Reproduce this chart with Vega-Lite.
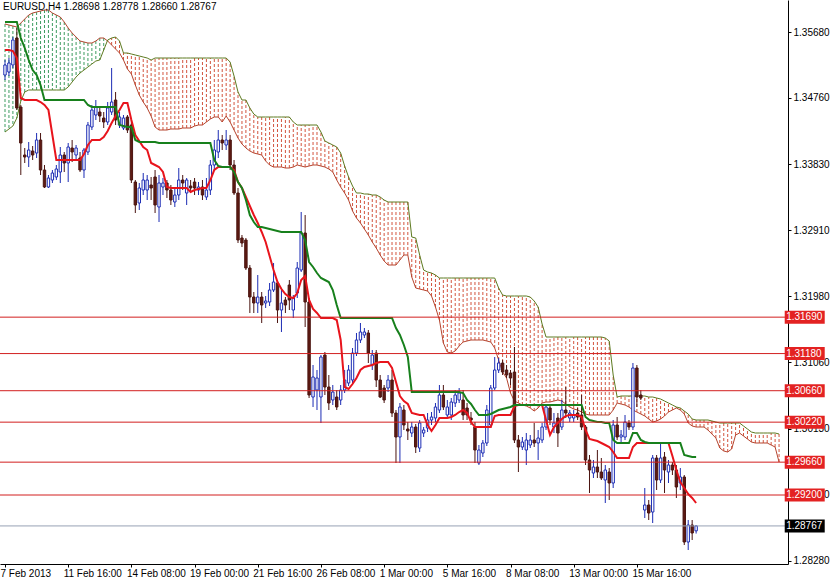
{
"$schema":"https://vega.github.io/schema/vega-lite/v6.json",
"width":788,"height":564,
"autosize":{"type":"none"},
"padding":{"left":0,"top":0,"right":42,"bottom":15},
"background":"white",
"config":{"view":{"stroke":null},"font":"Liberation Sans"},
"title":{"text":"EURUSD,H4  1.28698 1.28778 1.28660 1.28767","anchor":"start","frame":"group","orient":"top","offset":0,"baseline":"top","dx":3,"dy":12,"fontSize":10,"fontWeight":"normal","color":"black","font":"Liberation Sans"},
"datasets":{
"bars":[
{"i":0,"o":1.3508,"h":1.3529,"l":1.3501,"c":1.3522,"t":1.3543,"k":1.35822,"a":1.35794,"b":1.34282},
{"i":1,"o":1.35122,"h":1.35318,"l":1.35066,"c":1.35248,"t":1.3543,"k":1.35822,"a":1.3578,"b":1.34324},
{"i":2,"o":1.3522,"h":1.35612,"l":1.35178,"c":1.3557,"t":1.35416,"k":1.35822,"a":1.35766,"b":1.34366},
{"i":3,"o":1.35598,"h":1.35738,"l":1.3459,"c":1.34618,"t":1.35318,"k":1.35822,"a":1.35752,"b":1.34478},
{"i":4,"o":1.34632,"h":1.3466,"l":1.3368,"c":1.34128,"t":1.34758,"k":1.35598,"a":1.35808,"b":1.34716},
{"i":5,"o":1.3396,"h":1.34058,"l":1.33848,"c":1.33932,"t":1.3473,"k":1.35458,"a":1.35864,"b":1.34842},
{"i":6,"o":1.33932,"h":1.34142,"l":1.33792,"c":1.3403,"t":1.3473,"k":1.3529,"a":1.3592,"b":1.3487},
{"i":7,"o":1.34016,"h":1.34086,"l":1.3389,"c":1.3396,"t":1.3473,"k":1.3515,"a":1.35948,"b":1.3487},
{"i":8,"o":1.33988,"h":1.34268,"l":1.33918,"c":1.3417,"t":1.3473,"k":1.3508,"a":1.35962,"b":1.3487},
{"i":9,"o":1.3417,"h":1.34268,"l":1.3368,"c":1.3375,"t":1.34702,"k":1.3494,"a":1.35976,"b":1.3487},
{"i":10,"o":1.3375,"h":1.3382,"l":1.33498,"c":1.33512,"t":1.3466,"k":1.3473,"a":1.3599,"b":1.3487},
{"i":11,"o":1.33512,"h":1.3368,"l":1.33498,"c":1.33638,"t":1.3459,"k":1.3473,"a":1.3599,"b":1.3487},
{"i":12,"o":1.3361,"h":1.3375,"l":1.33568,"c":1.33708,"t":1.3424,"k":1.3473,"a":1.35948,"b":1.3487},
{"i":13,"o":1.33652,"h":1.3382,"l":1.3361,"c":1.33764,"t":1.3389,"k":1.3473,"a":1.3592,"b":1.3487},
{"i":14,"o":1.33722,"h":1.34072,"l":1.33568,"c":1.3396,"t":1.3389,"k":1.3473,"a":1.35892,"b":1.3487},
{"i":15,"o":1.3396,"h":1.34002,"l":1.33722,"c":1.33848,"t":1.3389,"k":1.3473,"a":1.35822,"b":1.3487},
{"i":16,"o":1.33848,"h":1.34128,"l":1.33582,"c":1.34072,"t":1.3389,"k":1.3473,"a":1.35738,"b":1.34912},
{"i":17,"o":1.34058,"h":1.3417,"l":1.33862,"c":1.34002,"t":1.3389,"k":1.3473,"a":1.35668,"b":1.34982},
{"i":18,"o":1.3396,"h":1.341,"l":1.3389,"c":1.34058,"t":1.3389,"k":1.3473,"a":1.35612,"b":1.35052},
{"i":19,"o":1.33918,"h":1.34002,"l":1.33722,"c":1.3375,"t":1.3389,"k":1.3473,"a":1.35556,"b":1.35108},
{"i":20,"o":1.3375,"h":1.34058,"l":1.33638,"c":1.3403,"t":1.33974,"k":1.3473,"a":1.35542,"b":1.3515},
{"i":21,"o":1.34002,"h":1.34422,"l":1.3396,"c":1.3438,"t":1.341,"k":1.3466,"a":1.35528,"b":1.35192},
{"i":22,"o":1.34352,"h":1.3466,"l":1.3431,"c":1.3459,"t":1.3417,"k":1.34632,"a":1.35528,"b":1.35234},
{"i":23,"o":1.3452,"h":1.3473,"l":1.3445,"c":1.34632,"t":1.3417,"k":1.34632,"a":1.35556,"b":1.35276},
{"i":24,"o":1.34562,"h":1.34618,"l":1.34422,"c":1.34506,"t":1.3417,"k":1.34632,"a":1.35598,"b":1.3529},
{"i":25,"o":1.34478,"h":1.34562,"l":1.34338,"c":1.34422,"t":1.34212,"k":1.34632,"a":1.35598,"b":1.3543},
{"i":26,"o":1.34422,"h":1.34702,"l":1.3438,"c":1.34618,"t":1.34296,"k":1.34632,"a":1.35556,"b":1.3557},
{"i":27,"o":1.34562,"h":1.35178,"l":1.3452,"c":1.34702,"t":1.34408,"k":1.34632,"a":1.355,"b":1.35598},
{"i":28,"o":1.3473,"h":1.34842,"l":1.3438,"c":1.3445,"t":1.34506,"k":1.34632,"a":1.35444,"b":1.35612},
{"i":29,"o":1.3438,"h":1.34562,"l":1.34338,"c":1.34492,"t":1.3459,"k":1.3438,"a":1.35388,"b":1.35556},
{"i":30,"o":1.34338,"h":1.3452,"l":1.3431,"c":1.34478,"t":1.34688,"k":1.34366,"a":1.3529,"b":1.35388},
{"i":31,"o":1.34492,"h":1.3452,"l":1.34268,"c":1.3431,"t":1.34688,"k":1.34352,"a":1.35164,"b":1.35388},
{"i":32,"o":1.3438,"h":1.3445,"l":1.33568,"c":1.3361,"t":1.3445,"k":1.34352,"a":1.35094,"b":1.35374},
{"i":33,"o":1.33582,"h":1.3361,"l":1.33148,"c":1.3326,"t":1.3424,"k":1.3417,"a":1.3494,"b":1.3536},
{"i":34,"o":1.33288,"h":1.33568,"l":1.3319,"c":1.33498,"t":1.34156,"k":1.34142,"a":1.348,"b":1.35346},
{"i":35,"o":1.3347,"h":1.33708,"l":1.334,"c":1.3361,"t":1.34072,"k":1.34142,"a":1.34702,"b":1.35332},
{"i":36,"o":1.3347,"h":1.3368,"l":1.3333,"c":1.3361,"t":1.3403,"k":1.34142,"a":1.34618,"b":1.35318},
{"i":37,"o":1.3354,"h":1.33652,"l":1.3333,"c":1.33498,"t":1.33848,"k":1.34142,"a":1.34506,"b":1.3529},
{"i":38,"o":1.33652,"h":1.3375,"l":1.33148,"c":1.3326,"t":1.3382,"k":1.34142,"a":1.34352,"b":1.35318},
{"i":39,"o":1.33232,"h":1.3368,"l":1.33022,"c":1.33568,"t":1.33792,"k":1.34128,"a":1.3431,"b":1.35318},
{"i":40,"o":1.33512,"h":1.33638,"l":1.334,"c":1.33568,"t":1.33722,"k":1.34128,"a":1.3431,"b":1.35318},
{"i":41,"o":1.33568,"h":1.3361,"l":1.33358,"c":1.3347,"t":1.33512,"k":1.34128,"a":1.3431,"b":1.35318},
{"i":42,"o":1.3347,"h":1.3354,"l":1.3326,"c":1.3333,"t":1.33498,"k":1.34128,"a":1.34324,"b":1.35318},
{"i":43,"o":1.33302,"h":1.33512,"l":1.33232,"c":1.334,"t":1.33498,"k":1.34128,"a":1.34324,"b":1.35318},
{"i":44,"o":1.334,"h":1.33778,"l":1.3333,"c":1.3361,"t":1.33498,"k":1.34128,"a":1.34324,"b":1.35318},
{"i":45,"o":1.3361,"h":1.3368,"l":1.3347,"c":1.33568,"t":1.33498,"k":1.34128,"a":1.34338,"b":1.35318},
{"i":46,"o":1.33428,"h":1.33638,"l":1.3326,"c":1.3361,"t":1.33498,"k":1.34128,"a":1.34338,"b":1.35318},
{"i":47,"o":1.33526,"h":1.3361,"l":1.33442,"c":1.33498,"t":1.33442,"k":1.34128,"a":1.34338,"b":1.35318},
{"i":48,"o":1.33582,"h":1.33638,"l":1.334,"c":1.33498,"t":1.3347,"k":1.34128,"a":1.34366,"b":1.35318},
{"i":49,"o":1.3347,"h":1.33582,"l":1.334,"c":1.33512,"t":1.33484,"k":1.34128,"a":1.3438,"b":1.35318},
{"i":50,"o":1.33512,"h":1.3361,"l":1.3333,"c":1.334,"t":1.33498,"k":1.34128,"a":1.3438,"b":1.35318},
{"i":51,"o":1.33372,"h":1.33638,"l":1.3333,"c":1.3347,"t":1.33498,"k":1.34128,"a":1.34422,"b":1.35318},
{"i":52,"o":1.3347,"h":1.3389,"l":1.334,"c":1.3382,"t":1.3361,"k":1.34128,"a":1.34464,"b":1.35318},
{"i":53,"o":1.3382,"h":1.3417,"l":1.3375,"c":1.3403,"t":1.3375,"k":1.3389,"a":1.34492,"b":1.35318},
{"i":54,"o":1.34002,"h":1.3431,"l":1.33918,"c":1.3417,"t":1.33792,"k":1.33806,"a":1.34492,"b":1.35318},
{"i":55,"o":1.3417,"h":1.3424,"l":1.3403,"c":1.34128,"t":1.33792,"k":1.33792,"a":1.34422,"b":1.35318},
{"i":56,"o":1.341,"h":1.3431,"l":1.3403,"c":1.3417,"t":1.33792,"k":1.33792,"a":1.34506,"b":1.35318},
{"i":57,"o":1.3417,"h":1.3424,"l":1.3375,"c":1.3382,"t":1.33792,"k":1.33792,"a":1.34422,"b":1.35262},
{"i":58,"o":1.3382,"h":1.3389,"l":1.334,"c":1.33428,"t":1.3375,"k":1.33722,"a":1.3431,"b":1.35066},
{"i":59,"o":1.33428,"h":1.33498,"l":1.32728,"c":1.3277,"t":1.33582,"k":1.33582,"a":1.34198,"b":1.34842},
{"i":60,"o":1.32798,"h":1.3284,"l":1.32672,"c":1.32728,"t":1.33498,"k":1.33498,"a":1.34114,"b":1.3473},
{"i":61,"o":1.3277,"h":1.32798,"l":1.3235,"c":1.32378,"t":1.33372,"k":1.3333,"a":1.34058,"b":1.3473},
{"i":62,"o":1.32378,"h":1.3242,"l":1.31748,"c":1.31972,"t":1.33246,"k":1.3312,"a":1.34016,"b":1.34618},
{"i":63,"o":1.31972,"h":1.32042,"l":1.31748,"c":1.31888,"t":1.3312,"k":1.33022,"a":1.33988,"b":1.34534},
{"i":64,"o":1.31888,"h":1.3228,"l":1.31748,"c":1.31972,"t":1.33008,"k":1.32952,"a":1.33974,"b":1.34492},
{"i":65,"o":1.31972,"h":1.32042,"l":1.31608,"c":1.3186,"t":1.32882,"k":1.32952,"a":1.3396,"b":1.34492},
{"i":66,"o":1.31888,"h":1.31986,"l":1.31818,"c":1.31916,"t":1.32742,"k":1.32938,"a":1.33876,"b":1.34492},
{"i":67,"o":1.31902,"h":1.32168,"l":1.31846,"c":1.3207,"t":1.32546,"k":1.32924,"a":1.3382,"b":1.34492},
{"i":68,"o":1.3207,"h":1.32448,"l":1.32042,"c":1.32182,"t":1.3235,"k":1.3291,"a":1.33792,"b":1.34492},
{"i":69,"o":1.32168,"h":1.3221,"l":1.31608,"c":1.3179,"t":1.32182,"k":1.32896,"a":1.33792,"b":1.34492},
{"i":70,"o":1.3179,"h":1.3207,"l":1.31482,"c":1.31888,"t":1.32084,"k":1.32882,"a":1.33792,"b":1.34492},
{"i":71,"o":1.3193,"h":1.31972,"l":1.31748,"c":1.3186,"t":1.32014,"k":1.32882,"a":1.33778,"b":1.34492},
{"i":72,"o":1.3214,"h":1.3221,"l":1.3179,"c":1.3193,"t":1.31972,"k":1.32882,"a":1.33778,"b":1.34492},
{"i":73,"o":1.3179,"h":1.32,"l":1.31678,"c":1.31958,"t":1.31958,"k":1.32882,"a":1.33792,"b":1.34422},
{"i":74,"o":1.32028,"h":1.32462,"l":1.31958,"c":1.32378,"t":1.32028,"k":1.32882,"a":1.3382,"b":1.3438},
{"i":75,"o":1.3235,"h":1.33162,"l":1.32322,"c":1.32868,"t":1.3221,"k":1.32882,"a":1.33806,"b":1.3438},
{"i":76,"o":1.32868,"h":1.3312,"l":1.31552,"c":1.31902,"t":1.32266,"k":1.3277,"a":1.33792,"b":1.3438},
{"i":77,"o":1.31902,"h":1.31958,"l":1.30558,"c":1.306,"t":1.3193,"k":1.32462,"a":1.33806,"b":1.3438},
{"i":78,"o":1.30572,"h":1.3102,"l":1.30432,"c":1.30852,"t":1.31804,"k":1.32392,"a":1.3382,"b":1.3438},
{"i":79,"o":1.3067,"h":1.3095,"l":1.3039,"c":1.30838,"t":1.31748,"k":1.32308,"a":1.3382,"b":1.3438},
{"i":80,"o":1.30572,"h":1.3116,"l":1.30208,"c":1.31132,"t":1.31678,"k":1.32238,"a":1.33806,"b":1.34282},
{"i":81,"o":1.3116,"h":1.31202,"l":1.306,"c":1.30712,"t":1.31678,"k":1.3221,"a":1.33792,"b":1.34156},
{"i":82,"o":1.30712,"h":1.3088,"l":1.3039,"c":1.30488,"t":1.31678,"k":1.32182,"a":1.33764,"b":1.34128},
{"i":83,"o":1.3053,"h":1.3074,"l":1.3046,"c":1.30642,"t":1.31678,"k":1.3207,"a":1.33722,"b":1.341},
{"i":84,"o":1.30572,"h":1.3067,"l":1.3039,"c":1.30432,"t":1.3165,"k":1.3186,"a":1.3361,"b":1.34072},
{"i":85,"o":1.3053,"h":1.3074,"l":1.3046,"c":1.3067,"t":1.3137,"k":1.31678,"a":1.33512,"b":1.33988},
{"i":86,"o":1.3067,"h":1.3095,"l":1.30628,"c":1.3081,"t":1.30712,"k":1.31678,"a":1.33428,"b":1.33806},
{"i":87,"o":1.30768,"h":1.3102,"l":1.30726,"c":1.3095,"t":1.30684,"k":1.31678,"a":1.3333,"b":1.33652},
{"i":88,"o":1.3081,"h":1.31258,"l":1.30768,"c":1.31188,"t":1.30754,"k":1.31678,"a":1.33176,"b":1.33526},
{"i":89,"o":1.31188,"h":1.31468,"l":1.31146,"c":1.3137,"t":1.30838,"k":1.31678,"a":1.33078,"b":1.33428},
{"i":90,"o":1.3137,"h":1.31608,"l":1.31328,"c":1.31482,"t":1.3095,"k":1.31678,"a":1.33008,"b":1.33428},
{"i":91,"o":1.3144,"h":1.31538,"l":1.31398,"c":1.31482,"t":1.30992,"k":1.31678,"a":1.32924,"b":1.33414},
{"i":92,"o":1.31468,"h":1.3151,"l":1.31048,"c":1.31188,"t":1.31006,"k":1.31678,"a":1.3284,"b":1.33414},
{"i":93,"o":1.3102,"h":1.3123,"l":1.3095,"c":1.3116,"t":1.3102,"k":1.31678,"a":1.32742,"b":1.334},
{"i":94,"o":1.31188,"h":1.3123,"l":1.30712,"c":1.3081,"t":1.31048,"k":1.31678,"a":1.32658,"b":1.334},
{"i":95,"o":1.3081,"h":1.3088,"l":1.30558,"c":1.30572,"t":1.31062,"k":1.31678,"a":1.3256,"b":1.33372},
{"i":96,"o":1.30698,"h":1.3074,"l":1.30488,"c":1.3053,"t":1.31062,"k":1.31678,"a":1.32476,"b":1.3333},
{"i":97,"o":1.30698,"h":1.3088,"l":1.30642,"c":1.3081,"t":1.31062,"k":1.31678,"a":1.3242,"b":1.33302},
{"i":98,"o":1.3081,"h":1.3095,"l":1.30292,"c":1.30348,"t":1.30978,"k":1.31678,"a":1.3242,"b":1.33302},
{"i":99,"o":1.30348,"h":1.3039,"l":1.29648,"c":1.30012,"t":1.30782,"k":1.31538,"a":1.3242,"b":1.33302},
{"i":100,"o":1.30012,"h":1.30488,"l":1.29648,"c":1.30432,"t":1.30586,"k":1.3144,"a":1.3249,"b":1.33302},
{"i":101,"o":1.3039,"h":1.3046,"l":1.3011,"c":1.3018,"t":1.30516,"k":1.313,"a":1.3256,"b":1.33302},
{"i":102,"o":1.30124,"h":1.30222,"l":1.2997,"c":1.30096,"t":1.30474,"k":1.31132,"a":1.3256,"b":1.33302},
{"i":103,"o":1.30068,"h":1.30222,"l":1.30012,"c":1.30152,"t":1.30348,"k":1.30642,"a":1.32252,"b":1.32812},
{"i":104,"o":1.30152,"h":1.30194,"l":1.29788,"c":1.29872,"t":1.30334,"k":1.30642,"a":1.32098,"b":1.32798},
{"i":105,"o":1.29858,"h":1.3025,"l":1.29802,"c":1.30208,"t":1.3032,"k":1.30642,"a":1.32084,"b":1.3256},
{"i":106,"o":1.30068,"h":1.30152,"l":1.30012,"c":1.3011,"t":1.3032,"k":1.30642,"a":1.3207,"b":1.3235},
{"i":107,"o":1.30138,"h":1.30348,"l":1.30082,"c":1.3025,"t":1.3018,"k":1.30642,"a":1.32056,"b":1.32322},
{"i":108,"o":1.3025,"h":1.30362,"l":1.3018,"c":1.30292,"t":1.30096,"k":1.30642,"a":1.31986,"b":1.32308},
{"i":109,"o":1.30278,"h":1.30488,"l":1.30222,"c":1.30432,"t":1.3018,"k":1.30642,"a":1.31832,"b":1.3228},
{"i":110,"o":1.3039,"h":1.3074,"l":1.30348,"c":1.306,"t":1.30278,"k":1.30642,"a":1.3165,"b":1.32238},
{"i":111,"o":1.306,"h":1.3074,"l":1.3039,"c":1.30432,"t":1.30278,"k":1.30642,"a":1.31328,"b":1.32238},
{"i":112,"o":1.3032,"h":1.3053,"l":1.30278,"c":1.30432,"t":1.30278,"k":1.30642,"a":1.31202,"b":1.32238},
{"i":113,"o":1.3032,"h":1.30558,"l":1.3025,"c":1.30502,"t":1.30292,"k":1.30642,"a":1.31188,"b":1.32238},
{"i":114,"o":1.30488,"h":1.3067,"l":1.30432,"c":1.306,"t":1.3032,"k":1.30642,"a":1.31216,"b":1.32238},
{"i":115,"o":1.3053,"h":1.30698,"l":1.30488,"c":1.30628,"t":1.30362,"k":1.30642,"a":1.31286,"b":1.32238},
{"i":116,"o":1.3053,"h":1.3067,"l":1.3025,"c":1.3032,"t":1.3039,"k":1.30628,"a":1.31342,"b":1.32238},
{"i":117,"o":1.30418,"h":1.30488,"l":1.3025,"c":1.3032,"t":1.30348,"k":1.3053,"a":1.31356,"b":1.32238},
{"i":118,"o":1.30278,"h":1.30362,"l":1.3018,"c":1.3025,"t":1.30222,"k":1.30474,"a":1.3137,"b":1.32238},
{"i":119,"o":1.30152,"h":1.30222,"l":1.29648,"c":1.2983,"t":1.30152,"k":1.3039,"a":1.3137,"b":1.32238},
{"i":120,"o":1.29648,"h":1.299,"l":1.2962,"c":1.2983,"t":1.30152,"k":1.3032,"a":1.3137,"b":1.32238},
{"i":121,"o":1.29788,"h":1.2997,"l":1.29732,"c":1.29928,"t":1.30152,"k":1.3032,"a":1.3137,"b":1.32238},
{"i":122,"o":1.29928,"h":1.3046,"l":1.29886,"c":1.3039,"t":1.30152,"k":1.3032,"a":1.31356,"b":1.32238},
{"i":123,"o":1.3018,"h":1.3074,"l":1.30138,"c":1.30698,"t":1.30152,"k":1.30334,"a":1.31342,"b":1.32238},
{"i":124,"o":1.30698,"h":1.31132,"l":1.3067,"c":1.3095,"t":1.30306,"k":1.30362,"a":1.31258,"b":1.32238},
{"i":125,"o":1.3095,"h":1.31118,"l":1.30908,"c":1.31048,"t":1.3032,"k":1.3039,"a":1.3109,"b":1.32098},
{"i":126,"o":1.31048,"h":1.3109,"l":1.3088,"c":1.30922,"t":1.3032,"k":1.30404,"a":1.30922,"b":1.32},
{"i":127,"o":1.3095,"h":1.3102,"l":1.30838,"c":1.3088,"t":1.3032,"k":1.30418,"a":1.30838,"b":1.31986},
{"i":128,"o":1.30908,"h":1.3095,"l":1.3074,"c":1.30838,"t":1.3032,"k":1.30432,"a":1.30628,"b":1.31986},
{"i":129,"o":1.30922,"h":1.31272,"l":1.29928,"c":1.2997,"t":1.30446,"k":1.3046,"a":1.30516,"b":1.31986},
{"i":130,"o":1.2997,"h":1.3004,"l":1.29522,"c":1.29872,"t":1.3046,"k":1.3046,"a":1.30488,"b":1.31986},
{"i":131,"o":1.29872,"h":1.30012,"l":1.2983,"c":1.29942,"t":1.3046,"k":1.3046,"a":1.3046,"b":1.31986},
{"i":132,"o":1.2983,"h":1.30068,"l":1.2962,"c":1.2997,"t":1.3046,"k":1.3046,"a":1.30446,"b":1.31986},
{"i":133,"o":1.299,"h":1.3004,"l":1.29858,"c":1.2997,"t":1.3046,"k":1.3046,"a":1.30418,"b":1.31972},
{"i":134,"o":1.2997,"h":1.30208,"l":1.29872,"c":1.29928,"t":1.3046,"k":1.3046,"a":1.30376,"b":1.31916},
{"i":135,"o":1.29928,"h":1.3011,"l":1.2969,"c":1.29998,"t":1.3046,"k":1.3046,"a":1.30418,"b":1.31832},
{"i":136,"o":1.2997,"h":1.30208,"l":1.29928,"c":1.30152,"t":1.3046,"k":1.3046,"a":1.30488,"b":1.31594},
{"i":137,"o":1.30152,"h":1.3046,"l":1.3011,"c":1.30432,"t":1.3025,"k":1.3046,"a":1.30502,"b":1.31412},
{"i":138,"o":1.30418,"h":1.3046,"l":1.3018,"c":1.3025,"t":1.3004,"k":1.3046,"a":1.30502,"b":1.31412},
{"i":139,"o":1.30152,"h":1.30348,"l":1.30068,"c":1.30208,"t":1.30152,"k":1.3046,"a":1.30516,"b":1.31412},
{"i":140,"o":1.30278,"h":1.30348,"l":1.29872,"c":1.30068,"t":1.30208,"k":1.3046,"a":1.3053,"b":1.31412},
{"i":141,"o":1.30152,"h":1.3053,"l":1.3011,"c":1.3039,"t":1.30264,"k":1.3046,"a":1.30516,"b":1.31412},
{"i":142,"o":1.3039,"h":1.30712,"l":1.30278,"c":1.30348,"t":1.30306,"k":1.3046,"a":1.30474,"b":1.31412},
{"i":143,"o":1.30278,"h":1.3039,"l":1.30222,"c":1.30348,"t":1.3032,"k":1.3046,"a":1.30432,"b":1.31412},
{"i":144,"o":1.30278,"h":1.3039,"l":1.30222,"c":1.3032,"t":1.3032,"k":1.3046,"a":1.30404,"b":1.31412},
{"i":145,"o":1.30348,"h":1.30418,"l":1.3025,"c":1.30292,"t":1.3032,"k":1.3046,"a":1.3039,"b":1.31412},
{"i":146,"o":1.3032,"h":1.306,"l":1.3011,"c":1.30152,"t":1.30292,"k":1.3046,"a":1.30362,"b":1.31412},
{"i":147,"o":1.30152,"h":1.3018,"l":1.2962,"c":1.2969,"t":1.3011,"k":1.30292,"a":1.30334,"b":1.31412},
{"i":148,"o":1.2969,"h":1.2976,"l":1.29228,"c":1.2955,"t":1.29984,"k":1.3025,"a":1.3032,"b":1.31412},
{"i":149,"o":1.29508,"h":1.2969,"l":1.29438,"c":1.29592,"t":1.2997,"k":1.30236,"a":1.3032,"b":1.31412},
{"i":150,"o":1.29592,"h":1.2983,"l":1.29438,"c":1.29522,"t":1.29956,"k":1.30222,"a":1.3032,"b":1.31412},
{"i":151,"o":1.29522,"h":1.29718,"l":1.2941,"c":1.29438,"t":1.29928,"k":1.30222,"a":1.3032,"b":1.31412},
{"i":152,"o":1.2941,"h":1.2962,"l":1.29088,"c":1.2955,"t":1.299,"k":1.30208,"a":1.3032,"b":1.31398},
{"i":153,"o":1.29522,"h":1.29578,"l":1.2913,"c":1.29368,"t":1.29872,"k":1.30208,"a":1.3032,"b":1.31356},
{"i":154,"o":1.29368,"h":1.3025,"l":1.29298,"c":1.3018,"t":1.29802,"k":1.2997,"a":1.3039,"b":1.3088},
{"i":155,"o":1.3018,"h":1.30292,"l":1.2997,"c":1.30012,"t":1.29718,"k":1.29928,"a":1.30488,"b":1.30572},
{"i":156,"o":1.30012,"h":1.3011,"l":1.29942,"c":1.3004,"t":1.29718,"k":1.29928,"a":1.30474,"b":1.30586},
{"i":157,"o":1.30012,"h":1.3032,"l":1.2997,"c":1.30222,"t":1.29718,"k":1.29928,"a":1.3046,"b":1.30586},
{"i":158,"o":1.30208,"h":1.3025,"l":1.3011,"c":1.30152,"t":1.29718,"k":1.29928,"a":1.30432,"b":1.30586},
{"i":159,"o":1.30152,"h":1.31048,"l":1.3011,"c":1.30978,"t":1.29872,"k":1.30068,"a":1.3039,"b":1.30586},
{"i":160,"o":1.30978,"h":1.3102,"l":1.30432,"c":1.30572,"t":1.29928,"k":1.30068,"a":1.30362,"b":1.30586},
{"i":161,"o":1.306,"h":1.3067,"l":1.3053,"c":1.30558,"t":1.29928,"k":1.2997,"a":1.30334,"b":1.30586},
{"i":162,"o":1.2899,"h":1.29298,"l":1.28878,"c":1.2906,"t":1.29928,"k":1.29942,"a":1.30306,"b":1.30586},
{"i":163,"o":1.2906,"h":1.2913,"l":1.2885,"c":1.28948,"t":1.29928,"k":1.29928,"a":1.30264,"b":1.30572},
{"i":164,"o":1.28962,"h":1.2976,"l":1.28808,"c":1.29718,"t":1.29928,"k":1.29928,"a":1.30222,"b":1.30572},
{"i":165,"o":1.29718,"h":1.2976,"l":1.2927,"c":1.2941,"t":1.29928,"k":1.29928,"a":1.30236,"b":1.30558},
{"i":166,"o":1.2941,"h":1.29928,"l":1.29368,"c":1.29718,"t":1.29928,"k":1.29928,"a":1.30264,"b":1.30544},
{"i":167,"o":1.29732,"h":1.29802,"l":1.29228,"c":1.2955,"t":1.29928,"k":1.29928,"a":1.30306,"b":1.30516},
{"i":168,"o":1.29522,"h":1.2969,"l":1.29368,"c":1.2962,"t":1.29928,"k":1.29928,"a":1.30362,"b":1.30488},
{"i":169,"o":1.2962,"h":1.29662,"l":1.2948,"c":1.2955,"t":1.29746,"k":1.29928,"a":1.3039,"b":1.3046},
{"i":170,"o":1.2955,"h":1.2962,"l":1.29158,"c":1.29312,"t":1.2955,"k":1.29928,"a":1.30418,"b":1.30432},
{"i":171,"o":1.29368,"h":1.29578,"l":1.2927,"c":1.29452,"t":1.29382,"k":1.29928,"a":1.3039,"b":1.30418},
{"i":172,"o":1.29452,"h":1.2948,"l":1.285,"c":1.28542,"t":1.29298,"k":1.2976,"a":1.30334,"b":1.30376},
{"i":173,"o":1.28542,"h":1.2885,"l":1.2843,"c":1.2878,"t":1.29214,"k":1.29746,"a":1.30208,"b":1.30334},
{"i":174,"o":1.2878,"h":1.2885,"l":1.2857,"c":1.28668,"t":1.29158,"k":1.29732,"a":1.30166,"b":1.30264},
{"i":175,"o":1.28698,"h":1.28778,"l":1.2866,"c":1.28767,"t":1.29088,"k":1.29732,"a":1.30152,"b":1.3025},
{"i":176,"a":1.30152,"b":1.3025},
{"i":177,"a":1.30152,"b":1.3025},
{"i":178,"a":1.3011,"b":1.3025},
{"i":179,"a":1.30054,"b":1.30236},
{"i":180,"a":1.29998,"b":1.30222},
{"i":181,"a":1.29858,"b":1.30208},
{"i":182,"a":1.29816,"b":1.30208},
{"i":183,"a":1.29802,"b":1.30208},
{"i":184,"a":1.29844,"b":1.30208},
{"i":185,"a":1.3004,"b":1.30208},
{"i":186,"a":1.30068,"b":1.30208},
{"i":187,"a":1.30026,"b":1.30166},
{"i":188,"a":1.29984,"b":1.30124},
{"i":189,"a":1.29942,"b":1.30082},
{"i":190,"a":1.29928,"b":1.30068},
{"i":191,"a":1.29928,"b":1.30068},
{"i":192,"a":1.29928,"b":1.30068},
{"i":193,"a":1.29928,"b":1.30068},
{"i":194,"a":1.299,"b":1.30068},
{"i":195,"a":1.29872,"b":1.30068},
{"i":196,"a":1.29662,"b":1.30054}
],
"levels":[
{"p":1.3169,"kind":"line"},{"p":1.3118,"kind":"line"},{"p":1.3066,"kind":"line"},{"p":1.3022,"kind":"line"},{"p":1.2966,"kind":"line"},{"p":1.292,"kind":"line"},{"p":1.28767,"kind":"cur"}
]
},
"layer":[
{"data":{"name":"bars"},
 "mark":{"type":"rule","strokeWidth":1,"strokeDash":[3,2]},
 "encoding":{
  "x":{"field":"i","type":"quantitative","title":null,"scale":{"domain":[0,197],"nice":false,"zero":false},
   "axis":{"values":[0,16,32,48,64,80,96,112,128,144,160],"labelExpr":"['7 Feb 2013','11 Feb 16:00','14 Feb 08:00','19 Feb 00:00','21 Feb 16:00','26 Feb 08:00','1 Mar 00:00','5 Mar 16:00','8 Mar 08:00','13 Mar 00:00','15 Mar 16:00'][round(datum.value/16)]","labelAlign":"left","labelOffset":-5,"labelFontSize":10,"labelFont":"Liberation Sans","labelColor":"black","tickSize":3,"tickColor":"black","domainColor":"black","labelPadding":1,"grid":false,"title":null,"labelFlush":false,"labelOverlap":false,"labelBound":false}},
  "y":{"field":"a","type":"quantitative","title":null,"scale":{"domain":[1.28234,1.3613],"nice":false,"zero":false},
   "axis":{"orient":"right","values":[1.3568,1.3522,1.3476,1.343,1.3383,1.3337,1.3291,1.3245,1.3198,1.3152,1.3106,1.306,1.3013,1.2967,1.2921,1.2874,1.2828],"format":".5f","labelFontSize":10,"labelFont":"Liberation Sans","labelColor":"black","tickSize":3,"tickColor":"black","domainColor":"black","labelPadding":2,"grid":false,"title":null,"labelOverlap":false,"labelFlush":false,"labelBound":false}},
  "y2":{"field":"b"},
  "stroke":{"condition":{"test":"datum.a > datum.b","value":"#3d9c60"},"value":"#d2553f"}
 }},
{"data":{"name":"bars"},
 "mark":{"type":"line","strokeWidth":1,"color":"#b5452f"},
 "encoding":{"x":{"field":"i","type":"quantitative","title":null},"y":{"field":"a","type":"quantitative","title":null}}},
{"data":{"name":"bars"},
 "mark":{"type":"line","strokeWidth":1,"color":"#5d7a20"},
 "encoding":{"x":{"field":"i","type":"quantitative","title":null},"y":{"field":"b","type":"quantitative","title":null}}},
{"data":{"name":"bars"},
 "transform":[{"filter":{"field":"o","valid":true}}],
 "mark":{"type":"rule","strokeWidth":1},
 "encoding":{"x":{"field":"i","type":"quantitative","title":null},"y":{"field":"l","type":"quantitative","title":null},"y2":{"field":"h"},
  "stroke":{"condition":{"test":"datum.c >= datum.o","value":"#1c2cb4"},"value":"#4a1410"}}},
{"data":{"name":"bars"},
 "transform":[{"filter":{"field":"o","valid":true}}],
 "mark":{"type":"bar","width":2.4,"strokeWidth":1},
 "encoding":{"x":{"field":"i","type":"quantitative","title":null},"y":{"field":"o","type":"quantitative","title":null},"y2":{"field":"c"},
  "fill":{"condition":{"test":"datum.c >= datum.o","value":"#ffffff"},"value":"#5e1a12"},
  "stroke":{"condition":{"test":"datum.c >= datum.o","value":"#1c2cb4"},"value":"#4a1410"}}},
{"data":{"name":"bars"},
 "transform":[{"filter":{"field":"t","valid":true}}],
 "mark":{"type":"line","strokeWidth":2,"color":"#e8141c"},
 "encoding":{"x":{"field":"i","type":"quantitative","title":null},"y":{"field":"t","type":"quantitative","title":null}}},
{"data":{"name":"bars"},
 "transform":[{"filter":{"field":"k","valid":true}}],
 "mark":{"type":"line","strokeWidth":2,"color":"#17801c"},
 "encoding":{"x":{"field":"i","type":"quantitative","title":null},"y":{"field":"k","type":"quantitative","title":null}}},
{"data":{"name":"levels"},
 "mark":{"type":"rule","strokeWidth":1},
 "encoding":{"y":{"field":"p","type":"quantitative","title":null},
  "stroke":{"condition":{"test":"datum.kind == 'cur'","value":"#98a2b4"},"value":"#d21f1f"}}},
{"data":{"name":"levels"},
 "mark":{"type":"tick","orient":"horizontal","size":40,"thickness":13,"opacity":1},
 "encoding":{"x":{"datum":202.5,"type":"quantitative","title":null},"y":{"field":"p","type":"quantitative","title":null},
  "color":{"condition":{"test":"datum.kind == 'cur'","value":"#000000"},"value":"#e32222"}}},
{"data":{"name":"levels"},
 "mark":{"type":"text","align":"left","baseline":"middle","fontSize":10,"font":"Liberation Sans","color":"#ffffff"},
 "encoding":{"x":{"datum":197.8,"type":"quantitative","title":null},"y":{"field":"p","type":"quantitative","title":null},
  "text":{"field":"p","type":"quantitative","format":".5f"}}}
]
}
